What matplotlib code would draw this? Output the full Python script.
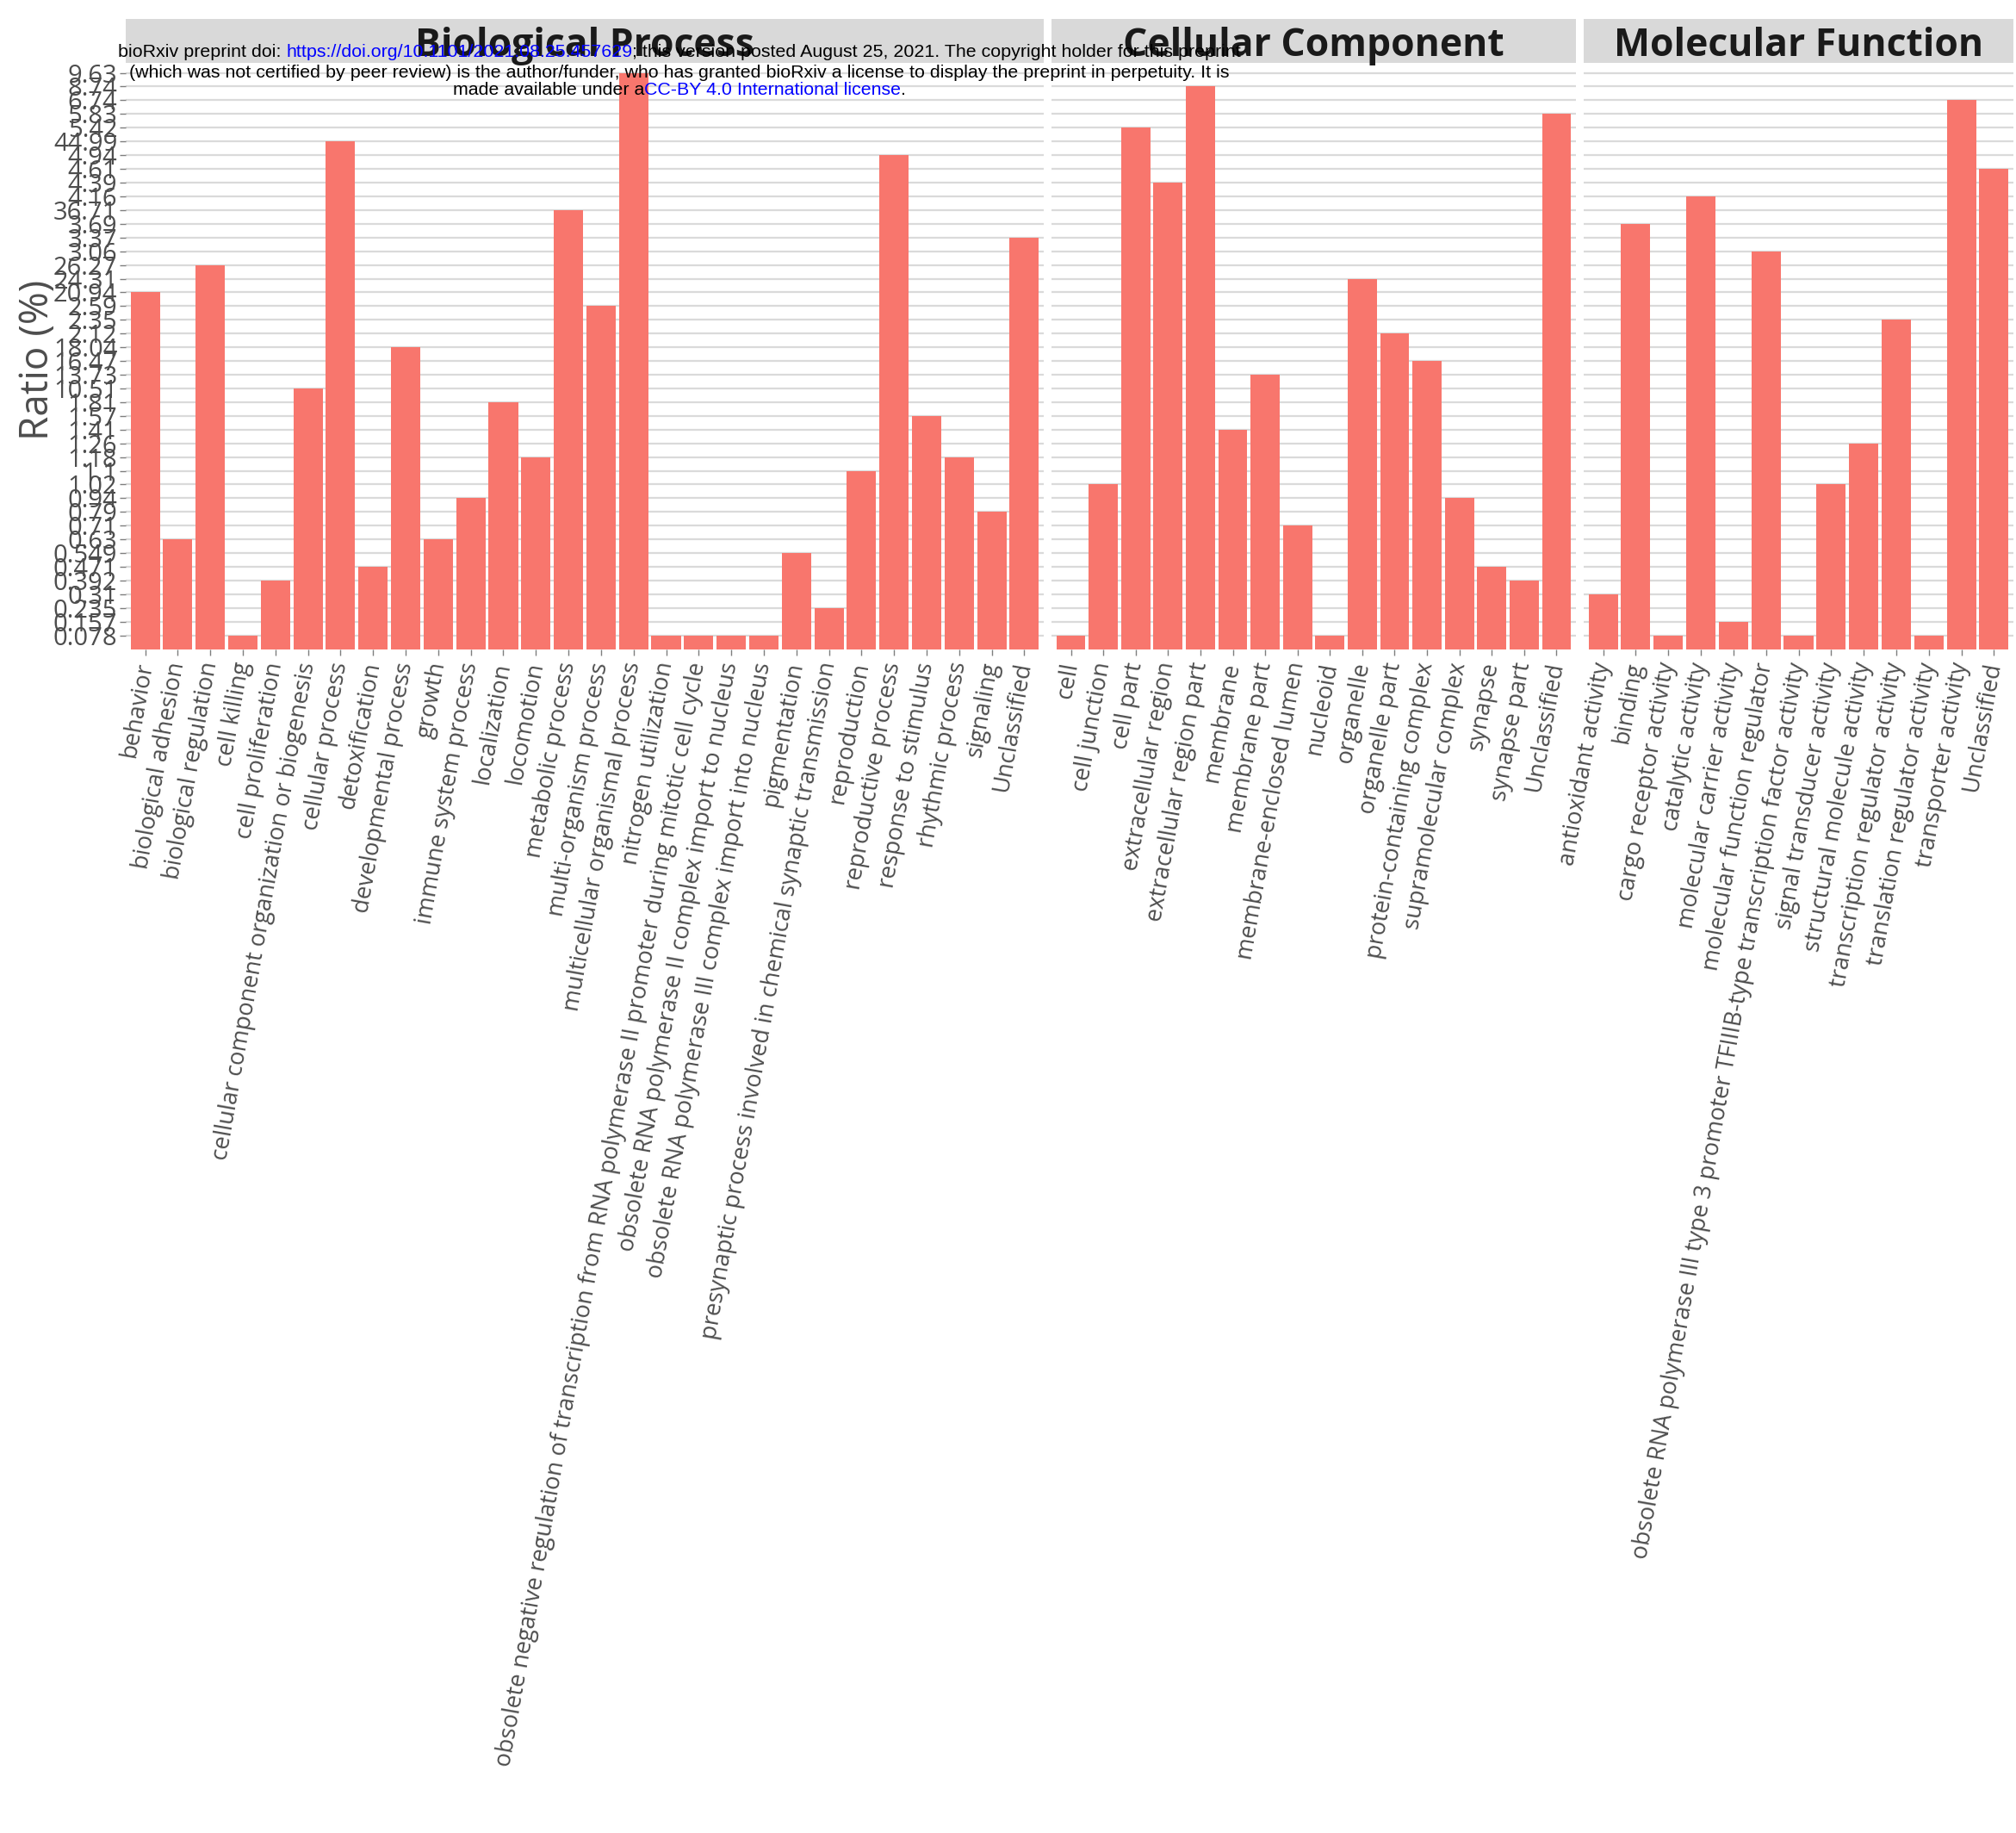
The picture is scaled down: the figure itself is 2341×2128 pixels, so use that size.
import matplotlib
matplotlib.use("Agg")
import matplotlib.pyplot as plt
import numpy as np

# ---------------- data ----------------
bp_categories = [
    "behavior", "biological adhesion", "biological regulation", "cell killing",
    "cell proliferation", "cellular component organization or biogenesis",
    "cellular process", "detoxification", "developmental process", "growth",
    "immune system process", "localization", "locomotion", "metabolic process",
    "multi-organism process", "multicellular organismal process",
    "nitrogen utilization",
    "obsolete negative regulation of transcription from RNA polymerase II promoter during mitotic cell cycle",
    "obsolete RNA polymerase II complex import to nucleus",
    "obsolete RNA polymerase III complex import into nucleus",
    "pigmentation", "presynaptic process involved in chemical synaptic transmission",
    "reproduction", "reproductive process", "response to stimulus",
    "rhythmic process", "signaling", "Unclassified",
]
# position of each bar on the (discrete) ratio axis
bp_levels = [26, 8, 28, 1, 5, 19, 37, 6, 22, 8, 11, 18, 14, 32, 25, 42, 1, 1, 1, 1,
             7, 3, 13, 36, 17, 14, 10, 30]

cc_categories = [
    "cell", "cell junction", "cell part", "extracellular region",
    "extracellular region part", "membrane", "membrane part",
    "membrane-enclosed lumen", "nucleoid", "organelle", "organelle part",
    "protein-containing complex", "supramolecular complex", "synapse",
    "synapse part", "Unclassified",
]
cc_levels = [1, 12, 38, 34, 41, 16, 20, 9, 1, 27, 23, 21, 11, 6, 5, 39]

mf_categories = [
    "antioxidant activity", "binding", "cargo receptor activity",
    "catalytic activity", "molecular carrier activity",
    "molecular function regulator",
    "obsolete RNA polymerase III type 3 promoter TFIIIB-type transcription factor activity",
    "signal transducer activity", "structural molecule activity",
    "transcription regulator activity", "translation regulator activity",
    "transporter activity", "Unclassified",
]
mf_levels = [4, 31, 1, 33, 2, 29, 1, 12, 15, 24, 1, 40, 35]

# y tick labels: ratio values treated as text levels (alphabetical order)
ratio_labels = [
    "0.078", "0.157", "0.235", "0.31", "0.392", "0.471", "0.549", "0.63",
    "0.71", "0.79", "0.94", "1.02", "1.1", "1.18", "1.26", "1.41", "1.57",
    "1.81", "10.51", "13.73", "16.47", "18.04", "2.12", "2.35", "2.59",
    "20.94", "24.31", "26.27", "3.06", "3.37", "3.69", "36.71", "4.16",
    "4.39", "4.61", "4.94", "44.99", "5.42", "5.83", "6.74", "8.74", "9.63",
]

facet_titles = ["Biological Process", "Cellular Component", "Molecular Function"]
y_title = "Ratio (%)"

header_lines = [
    [("bioRxiv preprint doi: ", "black"),
     ("https://doi.org/10.1101/2021.08.25.457629", "blue"),
     ("; this version posted August 25, 2021. The copyright holder for this preprint", "black")],
    [("(which was not certified by peer review) is the author/funder, who has granted bioRxiv a license to display the preprint in perpetuity. It is", "black")],
    [("made available under a", "black"),
     ("CC-BY 4.0 International license", "blue"),
     (".", "black")],
]

# ---------------- layout / style ----------------
W, H = 2341, 2128
DPI = 100
fig = plt.figure(figsize=(W / DPI, H / DPI), dpi=DPI)
fig.patch.set_facecolor("white")

BAR = "#F8766D"
GRID = "#DADADA"
TXT = "#4D4D4D"
STRIP = "#D9D9D9"
LABEL_FONT = ["Open Sans", "DejaVu Sans"]

panel_top, panel_bot = 75, 753.6
strip_top, strip_bot = 22, 73
panels = [(146, 1212), (1221, 1830), (1839, 2338)]


def rect(l, r, t, b):
    return [l / W, 1 - b / H, (r - l) / W, (b - t) / H]


nlev = len(ratio_labels)
facets = zip(panels, [bp_categories, cc_categories, mf_categories],
             [bp_levels, cc_levels, mf_levels], facet_titles)
for i, ((l, r), cats, vals, title) in enumerate(facets):
    ax = fig.add_axes(rect(l, r, panel_top, panel_bot))
    x = np.arange(1, len(cats) + 1)
    ax.bar(x, vals, width=0.9, color=BAR, zorder=2, linewidth=0)
    ax.set_xlim(0.4, len(cats) + 0.6)
    ax.set_ylim(0, nlev + 0.6)
    ax.set_yticks(np.arange(1, nlev + 1))
    ax.grid(axis="y", color=GRID, linewidth=1.6, zorder=0)
    ax.grid(axis="x", visible=False)
    ax.set_axisbelow(True)
    for s in ax.spines.values():
        s.set_visible(False)
    ax.set_xticks(x)
    ax.set_xticklabels(cats, rotation=80, ha="right", va="center",
                       rotation_mode="anchor", fontsize=19.5, color=TXT,
                       family=LABEL_FONT)
    ax.tick_params(axis="x", length=5, width=1, color="#7F7F7F", pad=6)
    if i == 0:
        ax.set_yticklabels(ratio_labels, fontsize=21, color=TXT, family=LABEL_FONT)
        ax.tick_params(axis="y", length=5, width=1, color="#7F7F7F", pad=2)
    else:
        ax.tick_params(axis="y", length=0, labelleft=False)

    sax = fig.add_axes(rect(l, r, strip_top, strip_bot))
    sax.set_facecolor(STRIP)
    sax.set_xticks([])
    sax.set_yticks([])
    for s in sax.spines.values():
        s.set_visible(False)
    sax.text(0.5, 0.38, title, ha="center", va="center", fontsize=32,
             fontweight="bold", family=LABEL_FONT, color="#1A1A1A",
             transform=sax.transAxes)

fig.text(44 / W, 1 - 418 / H, y_title, rotation=90, ha="center", va="center",
         fontsize=33, color=TXT, family=LABEL_FONT)

# ---------------- bioRxiv header (multi-coloured lines) ----------------
HEADER_FONT = ["Liberation Sans Narrow", "Liberation Sans", "DejaVu Sans"]
fig.canvas.draw()
renderer = fig.canvas.get_renderer()


def line_width(segs, size):
    total = 0
    for s, c in segs:
        t = fig.text(0, 0, s, fontsize=size, family=HEADER_FONT)
        total += t.get_window_extent(renderer).width
        t.remove()
    return total


base = 12
w0 = line_width(header_lines[0], base)
hsize = base * 1303.0 / w0
centre_x = 789
line_y = [61, 84, 105]
for segs, yy in zip(header_lines, line_y):
    texts = [fig.text(0, 1 - yy / H, s, fontsize=hsize, family=HEADER_FONT,
                      color=c, ha="left", va="center", zorder=10)
             for s, c in segs]
    widths = [t.get_window_extent(renderer).width for t in texts]
    x0 = centre_x - sum(widths) / 2
    for t, w in zip(texts, widths):
        t.set_x(x0 / W)
        x0 += w

fig.savefig("out.png", dpi=DPI, facecolor="white")
